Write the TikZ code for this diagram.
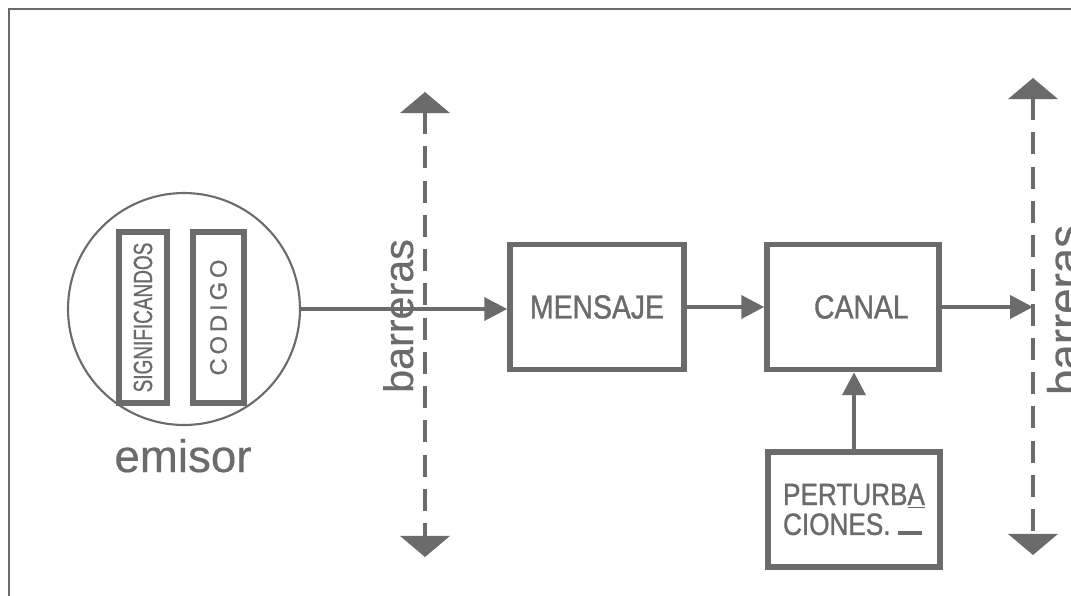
\documentclass[tikz,border=0pt]{standalone}
\usepackage{fontspec}
\setmainfont{Liberation Sans}[FakeBold=0.4]
\newfontfamily\boxfont[FakeStretch=0.85,FakeBold=1.1]{Liberation Sans}
\newfontfamily\narrowfont[FakeStretch=0.72,FakeBold=0.8]{Liberation Sans}
\newfontfamily\codefont[FakeBold=0.8]{Liberation Sans}
\usepackage{xcolor}
\usetikzlibrary{arrows.meta,positioning}
\definecolor{ink}{HTML}{6B6B6B}

\tikzset{
  block/.style={draw=ink, line width=3.2pt, text=ink, inner sep=0pt},
  conn/.style={draw=ink, line width=2.3pt, -{Triangle[length=13pt,width=13pt]}},
  barrier/.style={draw=ink, line width=2.3pt, dash pattern=on 12.5pt off 7pt,
    {Triangle[length=12pt,width=28pt]}-{Triangle[length=12pt,width=28pt]}},
  label/.style={text=ink, inner sep=0pt}
}

\begin{document}
\begin{tikzpicture}[x=0.02cm, y=-0.02cm]
    \path[use as bounding box, clip] (0,0) rectangle (1071,595);
    % frame
    \draw[ink, line width=1.7pt] (1080,9) -- (9,9) -- (9,605);
    % emisor
    \node[draw=ink, line width=1.2pt, circle, minimum size=4.64cm, inner sep=0pt] (emisor) at (184,309) {};
    \node[block, rotate=90, minimum width=3.42cm, minimum height=0.96cm,
      font=\narrowfont\fontsize{15}{15}\selectfont] (signif) at (143,317.5) {SIGNIFICANDOS};
    \node[block, rotate=90, minimum width=3.42cm, minimum height=1.02cm,
      font=\codefont\fontsize{13.5}{13.5}\selectfont] (codigo) at (218.5,317.5) {C\,O\,D\,I\,G\,O};
    \node[label, anchor=base, font=\fontsize{26}{26}\selectfont] (emisorlbl) at (183,472) {emisor};
    % blocks
    \node[block, minimum width=3.48cm, minimum height=2.5cm,
      font=\boxfont\fontsize{19}{19}\selectfont] (mensaje) at (597,307) {MENSAJE};
    \node[block, minimum width=3.44cm, minimum height=2.5cm,
      font=\boxfont\fontsize{19}{19}\selectfont] (canal) at (853,307) {\hspace{0.5em}CANAL};
    \node[block, minimum width=3.44cm, minimum height=2.3cm, align=left,
      font=\boxfont\fontsize{17.5}{17}\selectfont] (perturb) at (854,509.5)
      {PERTURB\underline{A}\\CIONES.~\rule{0.8em}{0.13em}};
    % barriers
    \foreach \n/\x/\t/\b in {L/425/92/557, R/1033/78/555} {
      \coordinate (bar\n top) at (\x,\t);
      \coordinate (bar\n bot) at (\x,\b);
      \draw[barrier] (bar\n top) -- (bar\n bot);
    }
    \node[label, rotate=90, anchor=base, font=\fontsize{23.5}{23.5}\selectfont] (barLlbl) at (413,316) {barreras};
    \node[label, rotate=90, anchor=base, font=\fontsize{26}{26}\selectfont] (barRlbl) at (1080,310) {barreras};
    % connectors
    \draw[conn] (emisor.east) -- (emisor.east -| mensaje.west);
    \draw[conn] (mensaje.east) -- (canal.west);
    \draw[conn] (canal.east) -- (canal.east -| barRtop);
    \draw[conn] (perturb.north) -- (perturb.north |- canal.south);
\end{tikzpicture}
\end{document}
